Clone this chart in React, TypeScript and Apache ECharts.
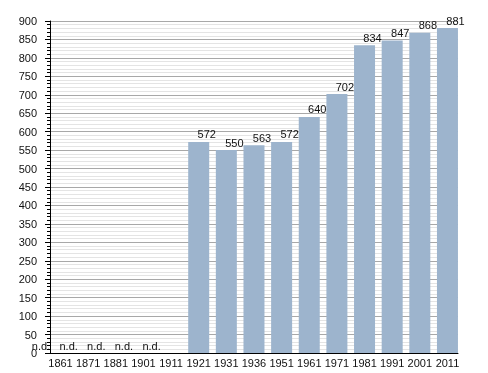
import React, { useEffect, useRef } from "react";
import * as echarts from "echarts";

const years = ["1861", "1871", "1881", "1901", "1911", "1921", "1931", "1936", "1951", "1961", "1971", "1981", "1991", "2001", "2011"];
const population: (number | null)[] = [null, null, null, null, null, 572, 550, 563, 572, 640, 702, 834, 847, 868, 881];
const notAvailable: boolean[] = [true, true, true, true, true, false, false, false, false, false, false, false, false, false, false];
const yMin = 0;
const yMax = 900;
const yStep = 50;

const FONT = "'Liberation Sans', Arial, sans-serif";

export default function App() {
  const ref = useRef<HTMLDivElement>(null);
  useEffect(() => {
    if (!ref.current) return;
    const chart = echarts.init(ref.current, null, { renderer: "svg" });
    const cell = 27.64;
    const gridLeft = 50;
    const gridW = 408;
    const barsLeft = gridLeft - (cell - 21) / 2;
    chart.setOption({
      animation: false,
      textStyle: { fontFamily: FONT },
      grid: [
        { left: gridLeft, top: 21, width: gridW, height: 332 },
        { left: barsLeft, top: 21, width: cell * years.length, height: 332 },
      ],
      xAxis: [
        {
          type: "category",
          gridIndex: 0,
          position: "bottom",
          data: years,
          axisLine: { show: false },
          axisTick: { show: false },
          axisLabel: { show: false },
          splitLine: { show: false },
        },
        {
          type: "category",
          gridIndex: 1,
          position: "bottom",
          data: years,
          axisLine: { show: false },
          axisTick: { show: false },
          axisLabel: { show: true, interval: 0, fontSize: 11, color: "#111", margin: 4, fontFamily: FONT },
          splitLine: { show: false },
        },
        {
          type: "category",
          gridIndex: 0,
          position: "bottom",
          offset: 0,
          data: years,
          z: 10,
          axisLine: { show: true, lineStyle: { color: "#000", width: 1 } },
          axisTick: { show: false },
          axisLabel: { show: false },
          splitLine: { show: false },
        },
      ],
      yAxis: [
        {
          type: "value",
          gridIndex: 0,
          position: "left",
          min: yMin,
          max: yMax,
          interval: yStep,
          axisLine: { show: false },
          axisTick: { show: false },
          axisLabel: { show: false },
          minorTick: { show: false, splitNumber: 5 },
          splitLine: { show: true, lineStyle: { color: "#a8a8a8", width: 1 } },
          minorSplitLine: { show: true, lineStyle: { color: "#e4e4e4", width: 1 } },
        },
        {
          type: "value",
          gridIndex: 1,
          min: yMin,
          max: yMax,
          show: false,
          splitLine: { show: false },
        },
        {
          type: "value",
          gridIndex: 0,
          position: "left",
          offset: 0,
          min: yMin,
          max: yMax,
          interval: yStep,
          z: 10,
          axisLine: { show: true, lineStyle: { color: "#000", width: 1 } },
          axisTick: { show: true, length: 5, lineStyle: { color: "#000" } },
          minorTick: { show: true, splitNumber: 5, length: 3, lineStyle: { color: "#000" } },
          axisLabel: { fontSize: 11, color: "#111", margin: 13, fontFamily: FONT },
          splitLine: { show: false },
          minorSplitLine: { show: false },
        },
      ],
      series: [
        {
          type: "bar",
          xAxisIndex: 1,
          yAxisIndex: 1,
          data: population,
          barWidth: 21,
          itemStyle: { color: "#9db4cd" },
          label: {
            show: true,
            position: "top",
            distance: 2,
            offset: [8, 0],
            fontSize: 11,
            color: "#111",
            fontFamily: FONT,
          },
        },
        {
          type: "bar",
          xAxisIndex: 1,
          yAxisIndex: 1,
          barGap: "-100%",
          data: notAvailable.map((v) => (v ? 0 : null)),
          barWidth: 21,
          itemStyle: { color: "#9db4cd" },
          label: {
            show: true,
            position: "top",
            distance: 2,
            offset: [-19.5, 0],
            fontSize: 11,
            color: "#111",
            fontFamily: FONT,
            formatter: () => "n.d.",
          },
        },
      ],
    });
    return () => chart.dispose();
  }, []);
  return <div ref={ref} style={{ position: "fixed", left: 0, top: 0, width: 488, height: 373 }} />;
}
